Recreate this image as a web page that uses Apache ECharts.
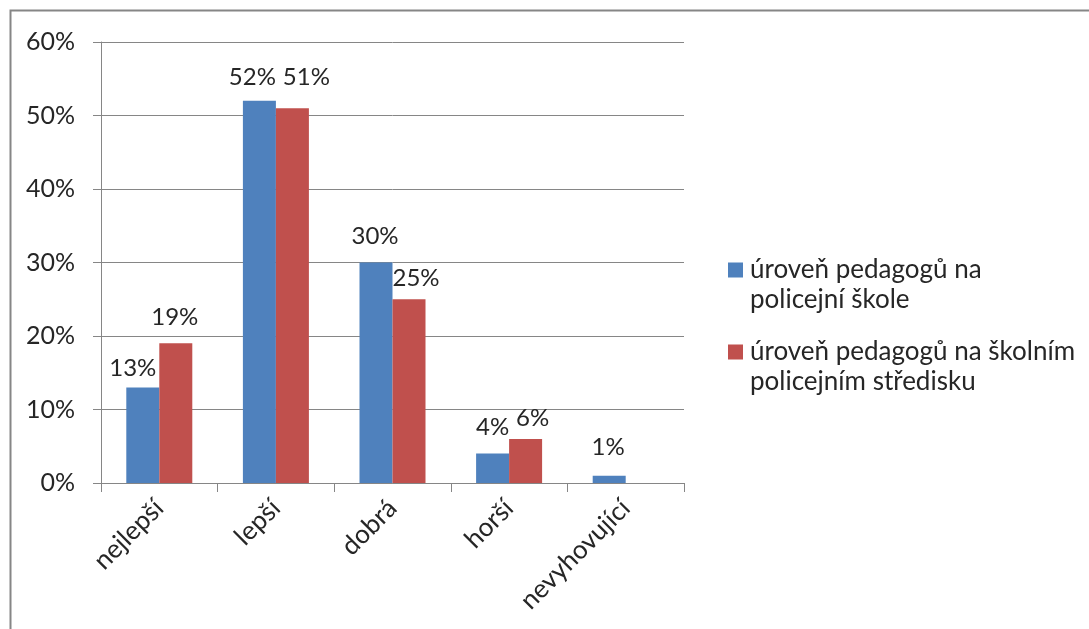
<!DOCTYPE html>
<html>
<head>
<meta charset="utf-8">
<script src="https://cdn.jsdelivr.net/npm/echarts@6/dist/echarts.min.js"></script>
<style>
  html, body { margin: 0; padding: 0; background: #fff; }
  #chart { width: 1089px; height: 629px; }
</style>
</head>
<body>
<div id="chart"></div>
<script>
// Hodnocení úrovně pedagogů (podíl odpovědí v %)
const categories = ['nejlepší', 'lepší', 'dobrá', 'horší', 'nevyhovující'];
const seriesNames = [
  'úroveň pedagogů na\npolicejní škole',
  'úroveň pedagogů na školním\npolicejním středisku'
];
const policejniSkola = [13, 52, 30, 4, 1];
const skolniStredisko = [19, 51, 25, 6, null];
const yTicks = [0, 10, 20, 30, 40, 50, 60];

const FONT = 'Lato, "Open Sans", sans-serif';
const TEXT = '#262626';
const LINE = '#868686';

// Hand-placed label nudges [dx, dy] so neighbouring value labels don't collide
const labelNudgeA = [[-10, 7], [-7, 2], [-1, 0], [0, 0], [-1, -2]];
const labelNudgeB = [[-1, 0], [14, -5], [7, 5], [7, 5], [0, 0]];

// Legend marker: square placed at the first text line of a two-line entry
const markerIcon = 'path://M0,0h0.01v0.01h-0.01z M0,7.5h15v15h-15z M0,59.99h0.01v0.01h-0.01z';

const labelCfg = {
  show: true,
  position: 'top',
  distance: 14,
  fontFamily: FONT,
  fontSize: 24,
  color: TEXT,
  formatter: p => p.value + '%'
};

function barData(values, nudges) {
  return values.map((v, i) => ({
    value: v,
    label: { offset: nudges[i] }
  }));
}

const chart = echarts.init(document.getElementById('chart'), null, { renderer: 'canvas' });

chart.setOption({
  animation: false,
  backgroundColor: '#fff',
  textStyle: { fontFamily: FONT },
  graphic: [{
    type: 'rect',
    shape: { x: 10.5, y: 10.5, width: 1200, height: 800 },
    style: { fill: 'none', stroke: LINE, lineWidth: 2 },
    silent: true,
    z: -10
  }],
  grid: { left: 101, right: 405, top: 42, bottom: 146 },
  legend: {
    orient: 'vertical',
    left: 723,
    top: 250,
    itemGap: 22,
    itemWidth: 15,
    itemHeight: 60,
    icon: markerIcon,
    textStyle: { fontFamily: FONT, fontSize: 26, color: TEXT, lineHeight: 30, padding: [0, 0, 0, 2] },
    data: seriesNames
  },
  xAxis: {
    type: 'category',
    data: categories,
    axisLine: { lineStyle: { color: LINE, width: 1 } },
    axisTick: { show: true, length: 9, lineStyle: { color: LINE } },
    axisLabel: {
      rotate: 45,
      margin: 21,
      fontFamily: FONT,
      fontSize: 26,
      color: TEXT
    }
  },
  yAxis: {
    type: 'value',
    min: yTicks[0],
    max: yTicks[yTicks.length - 1],
    interval: 10,
    axisLine: { show: true, lineStyle: { color: LINE, width: 1 } },
    axisTick: { show: true, length: 8, lineStyle: { color: LINE } },
    splitLine: { show: true, lineStyle: { color: LINE, width: 1 } },
    axisLabel: {
      margin: 26,
      fontFamily: FONT,
      fontSize: 25,
      color: TEXT,
      formatter: v => v + '%'
    }
  },
  series: [
    {
      name: seriesNames[0],
      type: 'bar',
      data: barData(policejniSkola, labelNudgeA),
      barWidth: 33,
      barGap: '0%',
      itemStyle: { color: '#4F81BD' },
      label: labelCfg
    },
    {
      name: seriesNames[1],
      type: 'bar',
      data: barData(skolniStredisko, labelNudgeB),
      barWidth: 33,
      barGap: '0%',
      itemStyle: { color: '#C0504D' },
      label: labelCfg
    }
  ]
});
</script>
</body>
</html>
